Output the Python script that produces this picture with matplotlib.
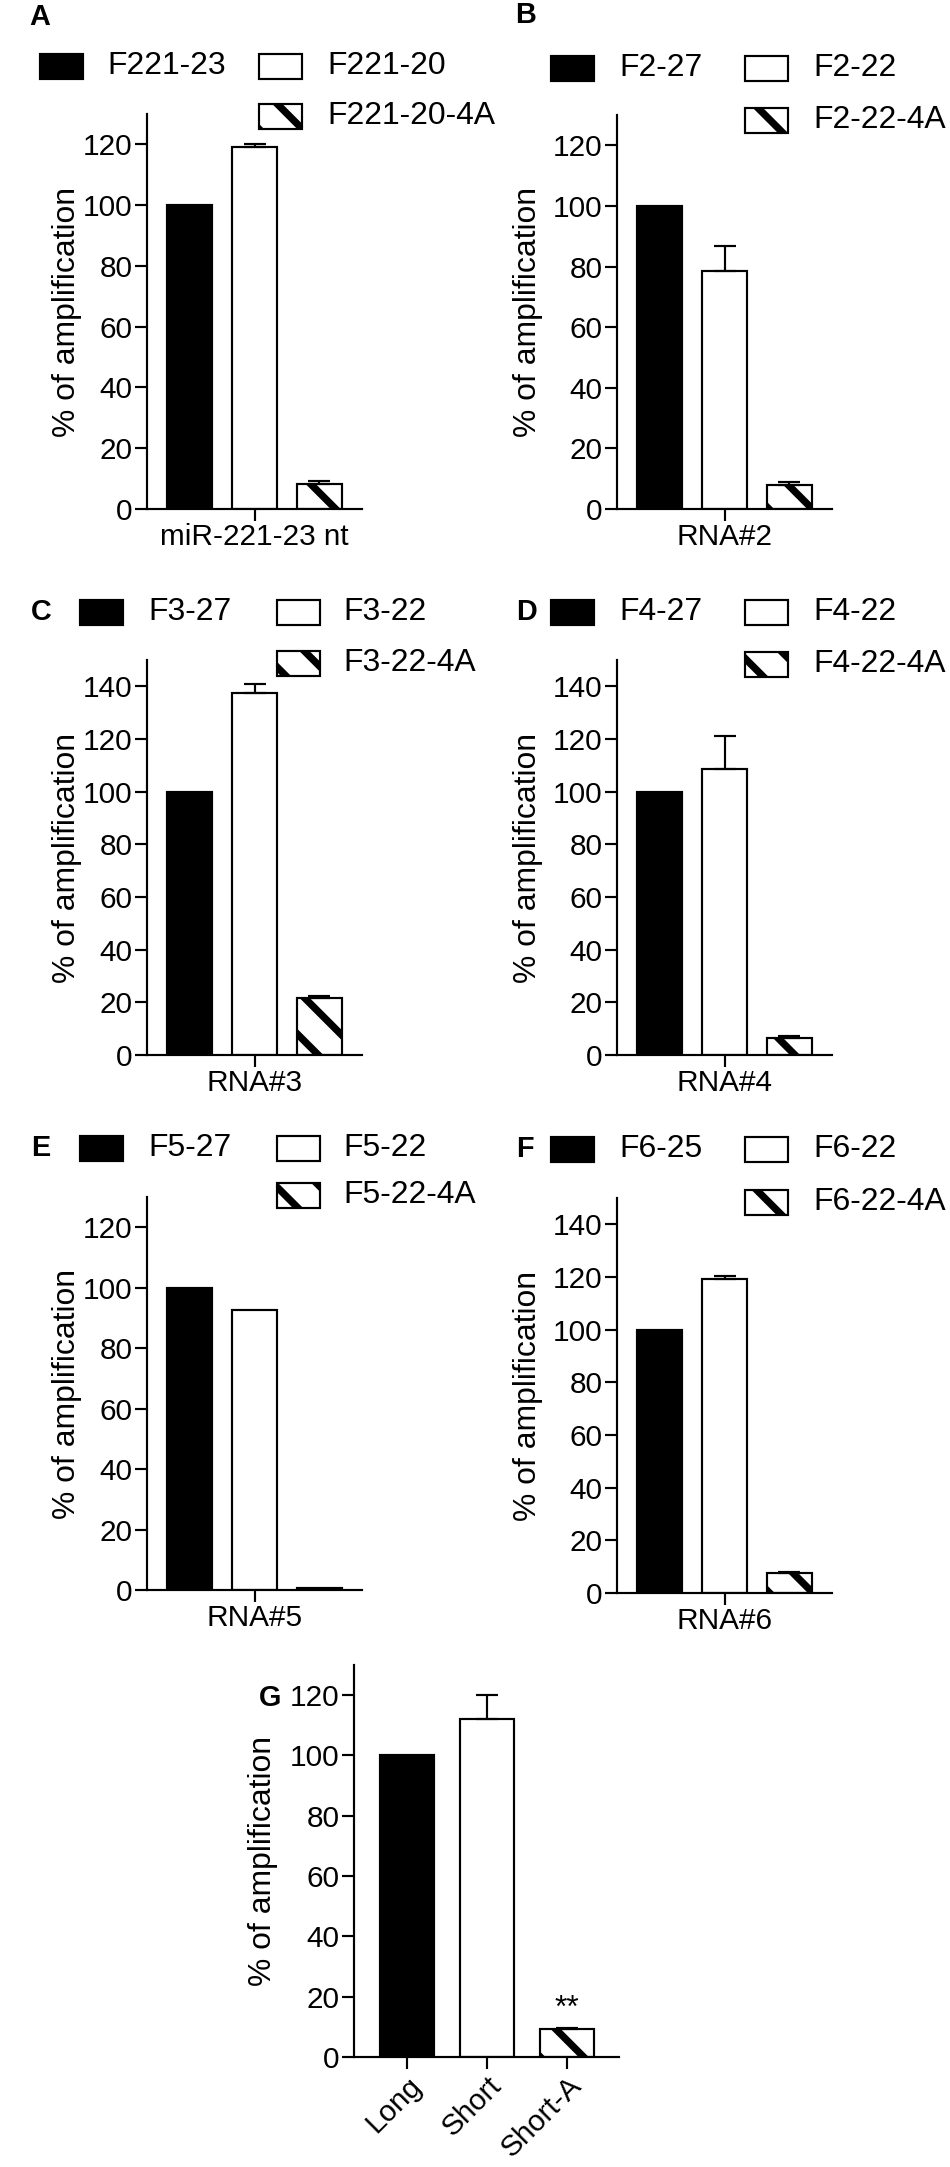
import numpy as np
import matplotlib.pyplot as plt
from matplotlib.patches import Rectangle

W, H = 950, 2167
DPI = 130

plt.rcParams['font.family'] = ['Liberation Sans', 'DejaVu Sans']
plt.rcParams['hatch.linewidth'] = 4.0
plt.rcParams['axes.linewidth'] = 1.2

# panels A-F
panels = ['A', 'B', 'C', 'D', 'E', 'F']
groups = ['miR-221-23 nt', 'RNA#2', 'RNA#3', 'RNA#4', 'RNA#5', 'RNA#6']
long_names = ['F221-23', 'F2-27', 'F3-27', 'F4-27', 'F5-27', 'F6-25']
short_names = ['F221-20', 'F2-22', 'F3-22', 'F4-22', 'F5-22', 'F6-22']
tail_names = ['F221-20-4A', 'F2-22-4A', 'F3-22-4A', 'F4-22-4A', 'F5-22-4A', 'F6-22-4A']
long_vals = [100, 100, 100, 100, 100, 100]
short_vals = [119.2, 78.5, 137.3, 108.6, 92.5, 119.1]
tail_vals = [8.2, 8.0, 21.8, 6.6, 0.7, 7.6]
short_err = [1.0, 8.3, 3.7, 12.4, 0.0, 1.4]
tail_err = [1.1, 1.0, 0.6, 0.6, 0.0, 0.4]
ymax = [130, 130, 150, 150, 130, 150]

# panel G
g_labels = ['Long', 'Short', 'Short-A']
g_vals = [100, 112.1, 9.3]
g_err = [0.0, 7.9, 0.3]

# layout in pixels: left, top, right, bottom
boxes = [(147, 114, 362, 509), (617, 115, 832, 509),
         (147, 660, 362, 1055), (617, 660, 832, 1055),
         (147, 1197, 362, 1590), (617, 1198, 832, 1593)]
g_box = (354, 1665, 619, 2057)
# legend: label xy, row ys, black patch x, text x, white patch x, text x
legends = [((40, 17), (66, 116), 40, 107, 259, 327),
           ((526, 15), (68, 120), 551, 619, 745, 813),
           ((41, 612), (612, 663), 80, 148, 277, 343),
           ((526, 612), (612, 664), 551, 619, 745, 813),
           ((41, 1148), (1148, 1195), 80, 148, 277, 343),
           ((525, 1149), (1149, 1202), 551, 619, 745, 813)]

styles = [dict(facecolor='black', edgecolor='black'),
          dict(facecolor='white', edgecolor='black'),
          dict(facecolor='white', edgecolor='black', hatch='\\')]

TICK_FS = 16.5
TXT_FS = 17.7


def fx(x):
    return x / W


def fy(y):
    return 1 - y / H


def make_axes(fig, box):
    l, t, r, b = box
    ax = fig.add_axes([fx(l), fy(b), (r - l) / W, (b - t) / H])
    ax.spines['top'].set_visible(False)
    ax.spines['right'].set_visible(False)
    ax.tick_params(length=6.5, width=1.2, labelsize=TICK_FS, pad=1.5)
    return ax


def draw_bars(ax, vals, errs, width):
    x = np.arange(len(vals))
    for i in range(len(vals)):
        ax.bar(x[i], vals[i], width=width, linewidth=1.2, **styles[i])
    up = np.array(errs)
    keep = up > 0
    if keep.any():
        ax.errorbar(x[keep], np.array(vals)[keep],
                    yerr=[np.zeros(keep.sum()), up[keep]], fmt='none',
                    ecolor='black', elinewidth=1.2, capsize=6, capthick=1.2)


def patch(fig, x0, yc, i):
    r = Rectangle((fx(x0), fy(yc + 12.5)), 43 / W, 25 / H,
                  transform=fig.transFigure, linewidth=1.2, **styles[i])
    fig.add_artist(r)


fig = plt.figure(figsize=(W / DPI, H / DPI), dpi=DPI)

for k in range(6):
    ax = make_axes(fig, boxes[k])
    draw_bars(ax, [long_vals[k], short_vals[k], tail_vals[k]],
              [0, short_err[k], tail_err[k]], 0.69)
    ax.set_xlim(-0.654, 2.654)
    ax.set_ylim(0, ymax[k])
    ax.set_yticks(np.arange(0, ymax[k], 20))
    ax.set_xticks([1])
    ax.set_xticklabels([groups[k]])
    ax.set_ylabel('% of amplification', fontsize=TXT_FS)
    lx = -0.302 if k % 2 == 0 else -0.344
    ax.yaxis.set_label_coords(lx, 0.5)

    (px, py), (y1, y2), bx, btx, wx, wtx = legends[k]
    fig.text(fx(px), fy(py), panels[k], fontsize=16, fontweight='bold',
             ha='center', va='center')
    patch(fig, bx, y1, 0)
    fig.text(fx(btx), fy(y1), long_names[k], fontsize=TXT_FS, va='center')
    patch(fig, wx, y1, 1)
    fig.text(fx(wtx), fy(y1), short_names[k], fontsize=TXT_FS, va='center')
    patch(fig, wx, y2, 2)
    fig.text(fx(wtx), fy(y2), tail_names[k], fontsize=TXT_FS, va='center')

# panel G
ax = make_axes(fig, g_box)
draw_bars(ax, g_vals, g_err, 0.675)
ax.set_xlim(-0.6625, 2.65)
ax.set_ylim(0, 130)
ax.set_yticks(np.arange(0, 130, 20))
ax.set_xticks(range(3))
ax.set_xticklabels(g_labels, rotation=45, ha='right', rotation_mode='anchor')
ax.set_ylabel('% of amplification', fontsize=TXT_FS)
ax.yaxis.set_label_coords(-0.287, 0.5)
ax.text(2, g_vals[2] + g_err[2] + 1.5, '**', fontsize=TXT_FS,
        ha='center', va='bottom')
fig.text(fx(270), fy(1698), 'G', fontsize=16, fontweight='bold',
         ha='center', va='center')

fig.savefig('out.png', dpi=DPI)
